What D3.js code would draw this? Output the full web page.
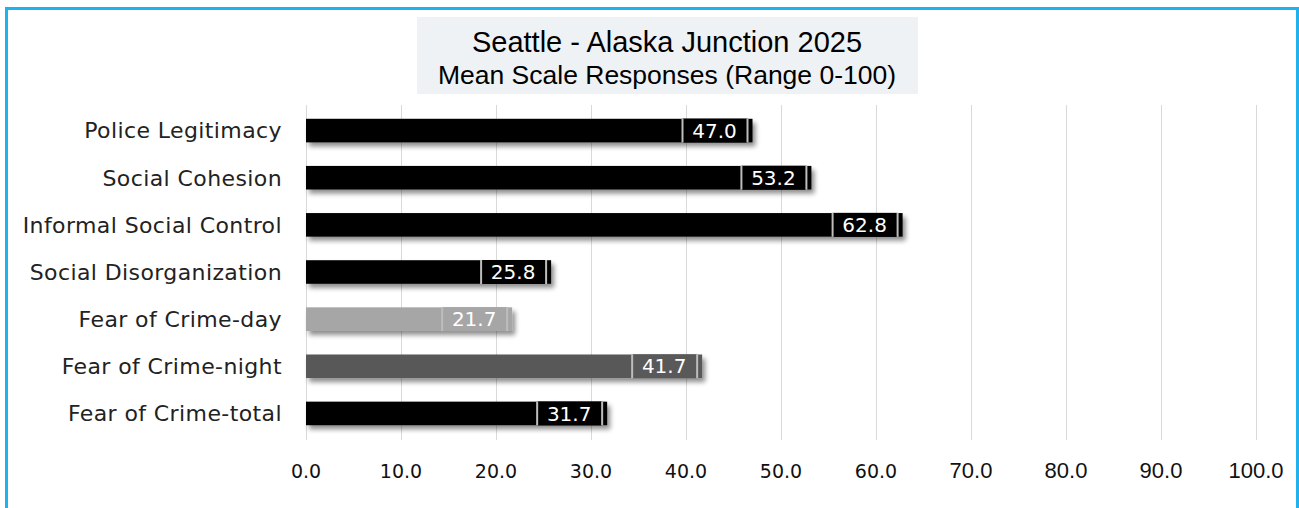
<!DOCTYPE html>
<html>
<head>
<meta charset="utf-8">
<script src="https://cdn.jsdelivr.net/npm/d3@7"></script>
<style>
  html, body { margin: 0; padding: 0; background: #fff; }
  svg { display: block; }
</style>
</head>
<body>
<div id="chart"></div>
<script>
var categories = ["Police Legitimacy", "Social Cohesion", "Informal Social Control",
  "Social Disorganization", "Fear of Crime-day", "Fear of Crime-night", "Fear of Crime-total"];
var values = [47.0, 53.2, 62.8, 25.8, 21.7, 41.7, 31.7];
var barColors = ["#000000", "#000000", "#000000", "#000000", "#a6a6a6", "#595959", "#000000"];
var tickValues = [0, 10, 20, 30, 40, 50, 60, 70, 80, 90, 100];
var titleText = "Seattle - Alaska Junction 2025";
var subtitleText = "Mean Scale Responses (Range 0-100)";

var width = 1299, height = 508;
var gothic = "'DejaVu Sans', sans-serif";
var arial = "'Liberation Sans', Arial, sans-serif";

var svg = d3.select("#chart").append("svg")
  .attr("width", width)
  .attr("height", height);

var defs = svg.append("defs");
var sh = defs.append("filter").attr("id", "shadow")
  .attr("x", "-5%").attr("y", "-40%").attr("width", "115%").attr("height", "200%");
sh.append("feGaussianBlur").attr("in", "SourceAlpha").attr("stdDeviation", 2.5);
sh.append("feOffset").attr("dx", 3).attr("dy", 4).attr("result", "b");
sh.append("feComponentTransfer").append("feFuncA").attr("type", "linear").attr("slope", 0.45);
var m = sh.append("feMerge");
m.append("feMergeNode");
m.append("feMergeNode").attr("in", "SourceGraphic");

// outer frame
svg.append("path")
  .attr("d", "M6.5,508 V8.5 H1297.5 V508")
  .attr("fill", "none")
  .attr("stroke", "#1fb2ef")
  .attr("stroke-width", 3);

var x = d3.scaleLinear().domain([0, 100]).range([306, 1256]);
var y = d3.scaleBand().domain(categories).range([107, 437]).paddingInner(0.5).paddingOuter(0.25);

// gridlines
svg.append("g")
  .selectAll("line")
  .data(tickValues)
  .join("line")
  .attr("x1", function(d) { return x(d) + 0.5; })
  .attr("x2", function(d) { return x(d) + 0.5; })
  .attr("y1", 105)
  .attr("y2", 440)
  .attr("stroke", "#d9d9d9")
  .attr("stroke-width", 1);

// title box
svg.append("rect")
  .attr("x", 417).attr("y", 17).attr("width", 501).attr("height", 77)
  .attr("fill", "#eef2f5");
svg.append("text")
  .attr("x", 667).attr("y", 52)
  .attr("text-anchor", "middle")
  .attr("font-family", arial).attr("font-size", 29)
  .attr("fill", "#000")
  .text(titleText);
svg.append("text")
  .attr("x", 667).attr("y", 84)
  .attr("text-anchor", "middle")
  .attr("font-family", arial).attr("font-size", 26.5)
  .attr("fill", "#000")
  .text(subtitleText);

// bars
svg.append("g")
  .selectAll("rect")
  .data(values)
  .join("rect")
  .attr("x", x(0))
  .attr("y", function(d, i) { return y(categories[i]); })
  .attr("width", function(d) { return x(d) - x(0); })
  .attr("height", y.bandwidth())
  .attr("fill", function(d, i) { return barColors[i]; })
  .attr("filter", "url(#shadow)");

// category labels
svg.append("g")
  .selectAll("text")
  .data(categories)
  .join("text")
  .attr("x", 282)
  .attr("y", function(d) { return y(d) + y.bandwidth() / 2; })
  .attr("dy", "0.36em")
  .attr("text-anchor", "end")
  .attr("font-family", gothic)
  .attr("font-size", 22)
  .attr("letter-spacing", 0.4)
  .attr("fill", "#222")
  .text(function(d) { return d; });

// value labels
var lab = svg.append("g")
  .selectAll("g")
  .data(values)
  .join("g")
  .attr("transform", function(d, i) {
    return "translate(" + x(d) + "," + (y(categories[i]) + y.bandwidth() / 2) + ")";
  });
lab.append("rect")
  .attr("x", -70).attr("y", -12)
  .attr("width", 65).attr("height", 24)
  .attr("fill", function(d, i) { return barColors[i]; });
lab.append("line")
  .attr("x1", -70).attr("x2", -70).attr("y1", -12).attr("y2", 12)
  .attr("stroke", "#bdbdbd").attr("stroke-width", 2);
lab.append("line")
  .attr("x1", -5).attr("x2", -5).attr("y1", -12).attr("y2", 12)
  .attr("stroke", "#bdbdbd").attr("stroke-width", 2);
lab.append("text")
  .attr("x", -38)
  .attr("dy", "0.36em")
  .attr("text-anchor", "middle")
  .attr("font-family", gothic)
  .attr("font-size", 20)
  .attr("fill", "#fff")
  .text(function(d) { return d3.format(".1f")(d); });

// x tick labels
svg.append("g")
  .selectAll("text")
  .data(tickValues)
  .join("text")
  .attr("x", function(d) { return x(d); })
  .attr("y", 478)
  .attr("text-anchor", "middle")
  .attr("font-family", function(d) { return d >= 70 ? arial : gothic; })
  .attr("font-size", function(d) { return d >= 70 ? 22 : 19; })
  .attr("fill", "#111")
  .text(function(d) { return d3.format(".1f")(d); });
</script>
</body>
</html>
